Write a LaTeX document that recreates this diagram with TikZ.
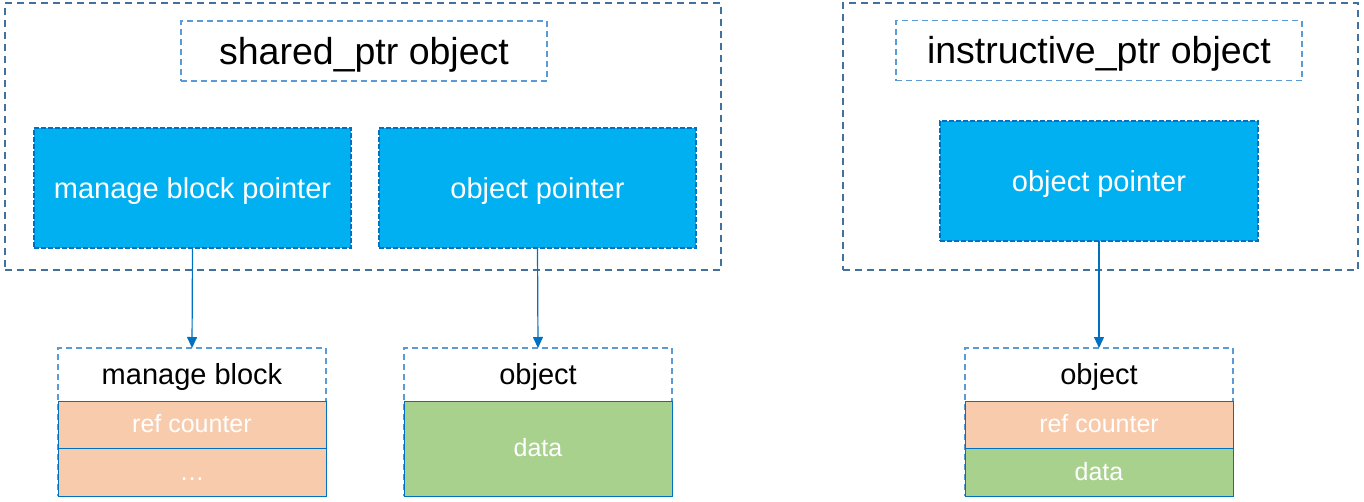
\documentclass[tikz,border=0pt]{standalone}
\usepackage{fontspec}
\setmainfont{Liberation Sans}
\usetikzlibrary{arrows.meta}
\definecolor{outerc}{HTML}{41719C}
\definecolor{titlec}{HTML}{5B9BD5}
\definecolor{ptrfill}{HTML}{00B0F0}
\definecolor{ptrdraw}{HTML}{0070C0}
\definecolor{orangec}{HTML}{F8CBAD}
\definecolor{greenc}{HTML}{A9D18E}
\begin{document}
\begin{tikzpicture}[x=1pt,y=-1pt,
  every node/.style={inner sep=0pt, outer sep=0pt},
  outerbox/.style={draw=outerc, line width=2pt, dash pattern=on 7pt off 5pt},
  titlebox/.style={draw=titlec, line width=1.5pt, dash pattern=on 6pt off 4pt, text=black, font=\fontsize{37.5}{40}\selectfont, text height=28pt, text depth=1.5pt},
  ptrbox/.style={draw=ptrdraw, fill=ptrfill, line width=1.5pt, dash pattern=on 5pt off 2pt, text=white, font=\fontsize{29}{32}\selectfont, minimum width=317pt, minimum height=120pt, text height=21pt, text depth=0pt},
  groupbox/.style={draw=titlec, line width=1.5pt, dash pattern=on 6pt off 4pt, minimum width=268pt, minimum height=148pt},
  headtext/.style={text=black, font=\fontsize{29}{32}\selectfont, text height=21pt, text depth=2pt},
  cell/.style={draw=ptrdraw, line width=1pt, text=white, font=\fontsize{25}{28}\selectfont, minimum width=268pt, text height=18pt, text depth=2pt},
  refcell/.style={cell, fill=orangec},
  datacell/.style={cell, fill=greenc},
  arr/.style={draw=ptrdraw, line width=1.2pt, -{Triangle[width=10pt,length=11pt]}}
]
\useasboundingbox (0,0) rectangle (1364,501);

% left: shared_ptr
\node[outerbox, minimum width=716pt, minimum height=267pt] (lout) at (363,136.5) {};
\node[titlebox, minimum width=366pt, minimum height=60pt] (ltitle) at (364,51) {shared\_ptr object};
\node[ptrbox] (mbp) at (192.5,188) {manage block pointer};
\node[ptrbox] (lop) at (537.5,188) {object pointer};

\node[groupbox] (lgrp) at (192,422) {};
\node[headtext] (lhead) at (192,374.5) {manage block};
\node[refcell, minimum height=47pt] (lref) at (192,424.5) {ref counter};
\node[refcell, minimum height=48pt] (ldots) at (192,472) {…};

\node[groupbox] (mgrp) at (538,422) {};
\node[headtext] (mhead) at (538,374.5) {object};
\node[datacell, minimum height=95pt] (mdata) at (538,448.5) {data};

% right: instructive_ptr
\node[outerbox, minimum width=515pt, minimum height=267pt] (rout) at (1100.5,136.5) {};
\node[titlebox, minimum width=406pt, minimum height=60pt] (rtitle) at (1099,50.5) {instructive\_ptr object};
\node[ptrbox, minimum width=318pt] (rop) at (1099,181) {object pointer};

\node[groupbox] (rgrp) at (1099,422) {};
\node[headtext] (rhead) at (1099,374.5) {object};
\node[refcell, minimum height=47pt] (rref) at (1099,424.5) {ref counter};
\node[datacell, minimum height=48pt] (rdata) at (1099,472) {data};

% connectors
\draw[arr] (mbp.south) -- (lgrp.north);
\draw[arr] (lop.south) -- (mgrp.north);
\draw[arr] (rop.south) -- (rgrp.north);
\end{tikzpicture}
\end{document}
